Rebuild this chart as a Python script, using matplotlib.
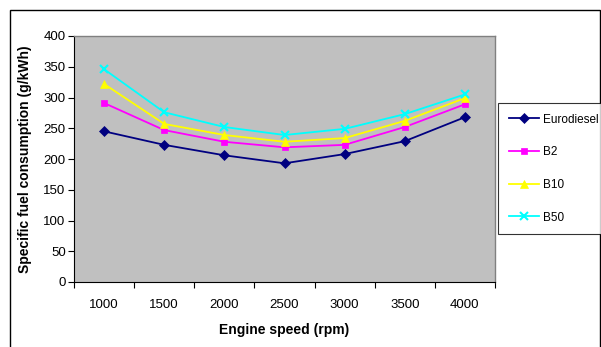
import matplotlib.pyplot as plt
from matplotlib.patches import Rectangle

plt.rcParams['font.family'] = ['Liberation Sans', 'DejaVu Sans']

# data
speeds = ['1000', '1500', '2000', '2500', '3000', '3500', '4000']
eurodiesel = [245, 223, 206, 193, 208, 229, 268]
b2 = [291, 247, 228, 219, 223, 252, 289]
b10 = [322, 257, 239, 228, 234, 262, 299]
b50 = [346, 276, 252, 239, 249, 273, 305]

series = [
    ('Eurodiesel', eurodiesel, '#000080', 'D', 5),
    ('B2', b2, '#FF00FF', 's', 5),
    ('B10', b10, '#FFFF00', '^', 6),
    ('B50', b50, '#00FFFF', 'x', 6),
]

fig = plt.figure(figsize=(6.01, 3.47), dpi=100)
ax = fig.add_axes([74 / 601, 1 - 282 / 347, (495 - 74) / 601, (282 - 36) / 347])
ax.set_facecolor('#C0C0C0')

xs = list(range(len(speeds)))
for name, vals, col, mk, ms in series:
    ax.plot(xs, vals, color=col, marker=mk, markersize=ms, linewidth=1.3,
            markeredgewidth=1.5 if mk == 'x' else 0.5, markeredgecolor=col,
            label=name)

ax.set_xlim(-0.5, len(speeds) - 0.5)
ax.set_ylim(0, 400)
ax.set_yticks(range(0, 401, 50))
ax.set_xticks(xs)
ax.set_xticklabels(speeds)
ax.set_xticks([i - 0.5 for i in range(len(speeds) + 1)], minor=True)
ax.tick_params(axis='x', which='major', length=0, pad=12, labelsize=9.5)
ax.tick_params(axis='x', which='minor', length=4, width=0.8, direction='out')
ax.tick_params(axis='y', length=4, width=0.8, direction='out', labelsize=9.5, pad=2)

for side in ['top', 'right']:
    ax.spines[side].set_color('#808080')
    ax.spines[side].set_linewidth(1.0)
for side in ['left', 'bottom']:
    ax.spines[side].set_color('black')
    ax.spines[side].set_linewidth(0.8)

ax.set_xlabel('Engine speed (rpm)', fontsize=10, fontweight='bold', labelpad=9)
ax.set_ylabel('Specific fuel consumption (g/kWh)', fontsize=10, fontweight='bold', labelpad=8)

# outer chart frame
fig.patches.append(Rectangle((10 / 601, -0.05), 590 / 601, 1.05 - 10 / 347,
                             transform=fig.transFigure, fill=False,
                             edgecolor='black', linewidth=1.0))

leg = fig.legend(loc='upper left', bbox_to_anchor=(498 / 601, 1 - 103 / 347),
                 frameon=True, fancybox=False, edgecolor='black', fontsize=8.5,
                 labelspacing=1.75, handlelength=2.6, borderpad=0.9,
                 handletextpad=0.3, borderaxespad=0)
leg.get_frame().set_linewidth(0.8)

fig.savefig('out.png', dpi=100)
